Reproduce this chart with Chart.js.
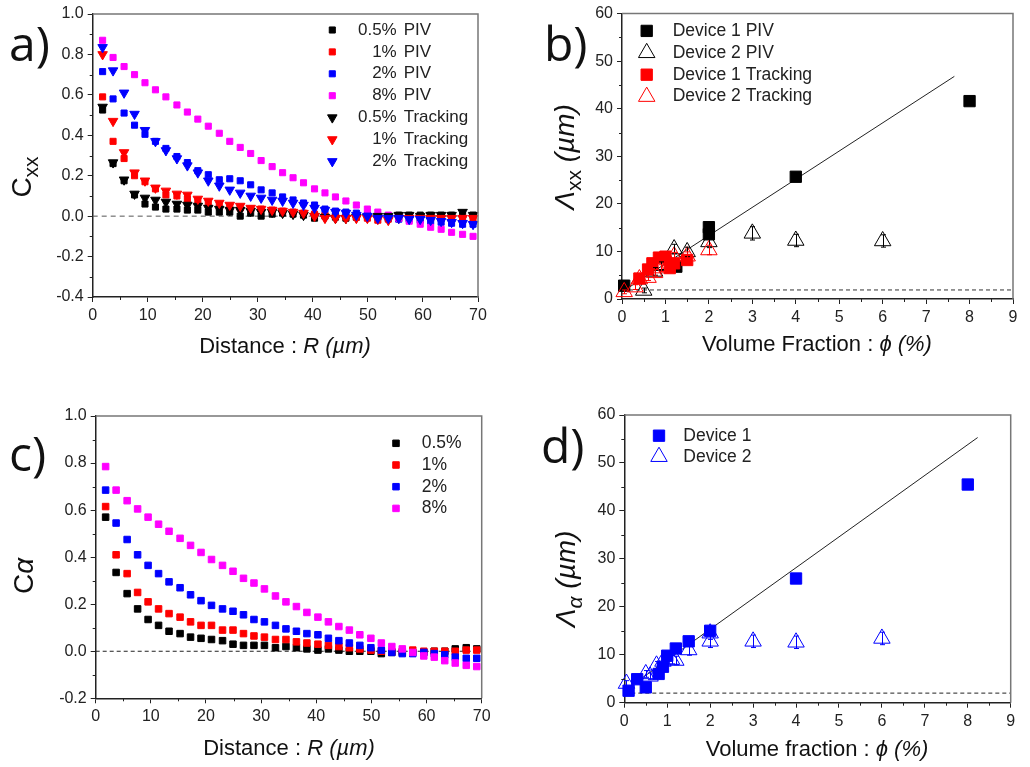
<!DOCTYPE html>
<html>
<head>
<meta charset="utf-8">
<script src="https://cdn.jsdelivr.net/npm/chart.js@4.4.0/dist/chart.umd.min.js"></script>
<style>
  body { margin: 0; background: #fff; width: 1030px; height: 767px; position: relative; overflow: hidden;
         font-family: "Liberation Sans", Arial, sans-serif; color: #111; }
  canvas { position: absolute; }
  .lbl { position: absolute; font-family: "Open Sans", sans-serif; font-size: 48px; line-height: 48px; color: #111; }
  .xt { position: absolute; font-size: 22px; line-height: 22px; transform: translateX(-50%); white-space: nowrap; }
  .yt { position: absolute; font-size: 28px; line-height: 28px; transform: translate(-50%, -50%) rotate(-90deg); white-space: nowrap; }
  .sub { font-size: 21px; position: relative; top: 7px; }
</style>
</head>
<body>
<canvas id="chartA" width="510" height="385" style="left:0;top:0"></canvas>
<canvas id="chartB" width="515" height="385" style="left:515px;top:0"></canvas>
<canvas id="chartC" width="510" height="382" style="left:0;top:385px"></canvas>
<canvas id="chartD" width="515" height="382" style="left:515px;top:385px"></canvas>

<div class="lbl" style="left:9px;top:19px">a)</div>
<div class="lbl" style="left:544px;top:19px">b)</div>
<div class="lbl" style="left:9px;top:429px">c)</div>
<div class="lbl" style="left:541px;top:421px">d)</div>

<div class="xt" style="left:285px;top:335px">Distance : <i>R (µm)</i></div>
<div class="xt" style="left:817px;top:333px">Volume Fraction : <i>ϕ (%)</i></div>
<div class="xt" style="left:289px;top:737px">Distance : <i>R (µm)</i></div>
<div class="xt" style="left:817px;top:738px">Volume fraction : <i>ϕ (%)</i></div>

<div class="yt" style="left:23px;top:177px">C<span class="sub">xx</span></div>
<div class="yt" style="left:566px;top:157px"><i>Λ</i><span class="sub">xx</span> <i>(µm)</i></div>
<div class="yt" style="left:24px;top:576px">C<i>α</i></div>
<div class="yt" style="left:567px;top:579px"><i>Λ</i><span class="sub"><i>α</i></span> <i>(µm)</i></div>

<script>
// distance R (µm) for panels a and c
const distance = [1.8, 3.7, 5.7, 7.6, 9.5, 11.4, 13.3, 15.3, 17.2, 19.1, 21.0, 23.0, 24.9, 26.8, 28.7, 30.6, 32.6, 34.5,
  36.4, 38.3, 40.3, 42.2, 44.1, 46.0, 47.9, 49.9, 51.8, 53.7, 55.6, 57.5, 59.5, 61.4, 63.3, 65.2, 67.2, 69.1];

// panel a : Cxx
const cxxPiv05 = [0.525, 0.26, 0.175, 0.105, 0.06, 0.045, 0.035, 0.035, 0.03, 0.03, 0.02, 0.02, 0.02, 0.0, 0.015, 0.0, 0.01, 0.015,
  0.01, 0.005, -0.01, 0.0, -0.005, -0.01, -0.005, 0.0, 0.0, 0.0, 0.005, 0.005, 0.005, 0.005, 0.005, 0.005, 0.005, 0.005];
const cxxPiv1 = [0.59, 0.37, 0.285, 0.2, 0.17, 0.135, 0.105, 0.1, 0.085, 0.075, 0.065, 0.055, 0.045, 0.04, 0.035, 0.035, 0.03, 0.025,
  0.02, 0.015, 0.01, 0.005, 0.0, -0.005, -0.005, -0.01, -0.02, -0.015, -0.01, -0.01, -0.01, -0.01, -0.01, -0.01, -0.01, -0.01];
const cxxPiv2 = [0.715, 0.58, 0.51, 0.45, 0.405, 0.37, 0.335, 0.295, 0.265, 0.225, 0.205, 0.18, 0.185, 0.175, 0.155, 0.13, 0.115, 0.095,
  0.08, 0.065, 0.055, 0.035, 0.025, 0.02, 0.015, 0.005, -0.005, -0.01, -0.015, -0.015, -0.02, -0.025, -0.03, -0.035, -0.04, -0.04];
const cxxPiv8 = [0.87, 0.785, 0.74, 0.7, 0.66, 0.625, 0.59, 0.55, 0.515, 0.48, 0.445, 0.41, 0.37, 0.34, 0.31, 0.275, 0.245, 0.215,
  0.19, 0.165, 0.135, 0.115, 0.095, 0.075, 0.055, 0.035, 0.02, 0.005, -0.01, -0.025, -0.04, -0.055, -0.065, -0.08, -0.09, -0.1];
const cxxTrk05 = [0.54, 0.265, 0.18, 0.11, 0.09, 0.08, 0.07, 0.06, 0.055, 0.05, 0.04, 0.035, 0.03, 0.03, 0.025, 0.02, 0.02, 0.015,
  0.01, 0.005, 0.0, -0.005, -0.01, -0.01, -0.005, -0.005, 0.0, 0.0, 0.005, 0.005, 0.0, 0.005, 0.005, 0.005, 0.02, 0.005];
const cxxTrk1 = [0.8, 0.47, 0.315, 0.215, 0.175, 0.14, 0.125, 0.11, 0.105, 0.085, 0.075, 0.065, 0.055, 0.05, 0.04, 0.035, 0.03, 0.025,
  0.02, 0.015, 0.0, -0.01, -0.01, -0.01, -0.01, -0.01, -0.015, -0.02, -0.01, -0.01, -0.01, -0.01, -0.01, -0.01, -0.01, -0.01];
const cxxTrk2 = [0.835, 0.72, 0.61, 0.505, 0.425, 0.37, 0.325, 0.285, 0.25, 0.215, 0.175, 0.15, 0.13, 0.115, 0.1, 0.09, 0.08, 0.075,
  0.065, 0.055, 0.04, 0.03, 0.02, 0.015, 0.005, 0.0, -0.01, -0.01, -0.01, -0.015, -0.015, -0.02, -0.025, -0.03, -0.035, -0.04];

// panel c : C alpha
const ca05 = [0.57, 0.335, 0.245, 0.18, 0.135, 0.11, 0.085, 0.075, 0.06, 0.055, 0.05, 0.045, 0.03, 0.025, 0.025, 0.025, 0.015, 0.02,
  0.015, 0.01, 0.005, 0.01, 0.005, 0.0, 0.0, 0.0, -0.01, -0.005, -0.005, -0.005, -0.005, 0.0, 0.0, 0.01, 0.015, 0.01];
const ca1 = [0.615, 0.41, 0.33, 0.25, 0.21, 0.18, 0.16, 0.145, 0.125, 0.11, 0.11, 0.09, 0.09, 0.075, 0.065, 0.06, 0.05, 0.05,
  0.04, 0.035, 0.03, 0.025, 0.02, 0.015, 0.01, 0.005, 0.0, 0.0, 0.0, 0.005, 0.0, 0.0, 0.0, 0.0, 0.005, 0.005];
const ca2 = [0.685, 0.545, 0.475, 0.41, 0.365, 0.33, 0.295, 0.27, 0.24, 0.215, 0.195, 0.18, 0.17, 0.155, 0.135, 0.125, 0.11, 0.095,
  0.085, 0.075, 0.07, 0.055, 0.045, 0.035, 0.025, 0.015, 0.005, -0.005, -0.01, -0.01, -0.005, -0.01, -0.015, -0.025, -0.03, -0.03];
const ca8 = [0.785, 0.685, 0.64, 0.605, 0.57, 0.54, 0.51, 0.48, 0.45, 0.42, 0.39, 0.365, 0.34, 0.31, 0.29, 0.265, 0.235, 0.21,
  0.19, 0.165, 0.145, 0.125, 0.105, 0.09, 0.07, 0.055, 0.035, 0.02, 0.01, -0.005, -0.02, -0.025, -0.04, -0.05, -0.06, -0.065];

// panel b : Lambda xx vs volume fraction
const phiB1 = [0.05, 1.25, 2, 2, 4, 8];
const lamB1 = [2.8, 6.8, 15.1, 13.6, 25.7, 41.6];
const phiB2 = [0.5, 0.75, 0.9, 1.2, 1.5, 2, 3, 4, 6];
const lamB2 = [1.8, 5.8, 7.0, 10.5, 9.9, 12.0, 13.8, 12.3, 12.2];
const errB2 = [0.5, 0.8, 0.8, 1.0, 1.0, 1.2, 1.4, 1.3, 1.3];
const phiB1t = [0.4, 0.6, 0.7, 0.85, 1.0, 1.1, 1.2, 1.5];
const lamB1t = [4.3, 6.2, 7.5, 8.7, 8.9, 6.5, 7.5, 8.2];
const phiB2t = [0.05, 0.3, 0.4, 0.6, 0.75, 0.9, 1.1, 1.2, 1.5, 2];
const lamB2t = [1.5, 2.5, 4.2, 4.5, 5.5, 6.5, 7.5, 9.0, 9.0, 10.3];
const errB2t = [0.4, 0.5, 0.6, 0.6, 0.7, 0.7, 0.8, 0.8, 0.9, 1.0];
const fitBx = [0, 7.65];
const fitBy = [1.5, 46.8];

// panel d : Lambda alpha vs volume fraction
const phiD1 = [0.1, 0.3, 0.5, 0.8, 0.9, 1.0, 1.2, 1.5, 2, 4, 8];
const lamD1 = [2.5, 4.9, 3.2, 6.0, 7.5, 9.8, 11.3, 12.8, 15.0, 25.9, 45.5];
const phiD2 = [0.05, 0.5, 0.6, 0.75, 0.9, 1.1, 1.2, 1.5, 2, 2, 3, 4, 6];
const lamD2 = [4.0, 6.0, 5.5, 7.8, 8.6, 9.0, 8.8, 11.0, 14.5, 12.8, 12.8, 12.6, 13.4];
const errD2 = [0.6, 0.7, 0.7, 0.8, 0.8, 0.9, 0.9, 1.1, 1.3, 1.3, 1.3, 1.3, 1.3];
const fitDx = [0, 8.23];
const fitDy = [2.5, 55.3];

// horizontal reference lines
const zeroX = [0, 70];
const zeroY = [0, 0];
const floorX = [0, 9];
const floorBy = [1.9, 1.9];
const floorDy = [2, 2];

Chart.defaults.font.family = "'Liberation Sans', Arial, sans-serif";

const pts = (xs, ys) => xs.map((x, i) => ({x: x, y: ys[i]}));

function marks(label, xs, ys, color, style, r, open, err) {
    return {
        label: label,
        data: pts(xs, ys),
        pointStyle: style === 'down' ? 'triangle' : style,
        pointRotation: style === 'down' ? 180 : 0,
        pointRadius: r,
        pointHoverRadius: r,
        pointBackgroundColor: open ? 'rgba(255,255,255,0)' : color,
        pointBorderColor: color,
        pointBorderWidth: 1,
        showLine: false,
        clip: false,
        errorBars: err
    };
}

function refLine(xs, ys, color, dash) {
    return {
        label: '',
        data: pts(xs, ys),
        showLine: true,
        borderColor: color,
        borderWidth: 1,
        borderDash: dash || [],
        pointRadius: 0,
        order: 99
    };
}

function axis(min, max, step, dec) {
    return {
        type: 'linear', min: min, max: max,
        afterFit: s => { if (s.isHorizontal()) s.height = 30; else s.width = 40; },
        ticks: {
            stepSize: step, color: '#222', padding: 4, maxRotation: 0, autoSkip: false,
            font: {size: 16},
            callback: v => (Math.abs(v) < 1e-9 ? 0 : v).toFixed(dec)
        },
        grid: {drawOnChartArea: false, color: '#222', tickLength: 5, lineWidth: 1},
        border: {color: '#222', width: 1.5}
    };
}

// minor ticks + grey top/right frame
const frame = {
    id: 'frame',
    afterDraw(chart) {
        const ctx = chart.ctx, a = chart.chartArea;
        ctx.save();
        ctx.strokeStyle = '#222';
        ctx.lineWidth = 1;
        ['x', 'y'].forEach(id => {
            const s = chart.scales[id], t = s.ticks;
            for (let i = 0; i < t.length - 1; i++) {
                const p = Math.round(s.getPixelForValue((t[i].value + t[i + 1].value) / 2)) + 0.5;
                ctx.beginPath();
                if (id === 'x') { ctx.moveTo(p, a.bottom); ctx.lineTo(p, a.bottom + 3); }
                else { ctx.moveTo(a.left, p); ctx.lineTo(a.left - 3, p); }
                ctx.stroke();
            }
        });
        ctx.strokeStyle = '#777';
        ctx.lineWidth = 1.5;
        ctx.beginPath();
        ctx.moveTo(a.left, a.top);
        ctx.lineTo(a.right, a.top);
        ctx.lineTo(a.right, a.bottom);
        ctx.stroke();
        ctx.restore();
    }
};

// vertical error bars on datasets having errorBars
const errorBars = {
    id: 'errorBars',
    afterDatasetsDraw(chart) {
        const ctx = chart.ctx, ys = chart.scales.y;
        chart.data.datasets.forEach((ds, di) => {
            if (!ds.errorBars) return;
            const meta = chart.getDatasetMeta(di);
            ctx.save();
            ctx.strokeStyle = ds.pointBorderColor;
            ctx.lineWidth = 1;
            meta.data.forEach((el, i) => {
                const v = ds.data[i].y, e = ds.errorBars[i];
                const top = ys.getPixelForValue(v + e), bot = ys.getPixelForValue(v - e);
                const x = Math.round(el.x) + 0.5;
                ctx.beginPath();
                ctx.moveTo(x, top); ctx.lineTo(x, bot);
                ctx.moveTo(x - 2.5, top); ctx.lineTo(x + 2.5, top);
                ctx.moveTo(x - 2.5, bot); ctx.lineTo(x + 2.5, bot);
                ctx.stroke();
            });
            ctx.restore();
        });
    }
};

// legend drawn inside the plot area
const insideLegend = {
    id: 'insideLegend',
    afterDraw(chart, args, o) {
        const ctx = chart.ctx, a = chart.chartArea;
        ctx.save();
        ctx.font = o.font;
        ctx.textBaseline = 'middle';
        let row = 0;
        chart.data.datasets.forEach(ds => {
            if (!ds.label) return;
            const y = a.top + o.y + row * o.rowH;
            ctx.fillStyle = ds.pointBackgroundColor;
            ctx.strokeStyle = ds.pointBorderColor;
            ctx.lineWidth = 1;
            Chart.helpers.drawPoint(ctx, {pointStyle: ds.pointStyle, rotation: ds.pointRotation,
                radius: ds.pointRadius, borderWidth: 1}, a.left + o.markerX, y);
            ctx.fillStyle = '#222';
            if (o.splitX) {
                const k = ds.label.indexOf(' ');
                ctx.textAlign = 'right';
                ctx.fillText(ds.label.slice(0, k), a.left + o.splitX, y);
                ctx.textAlign = 'left';
                ctx.fillText(ds.label.slice(k + 1), a.left + o.splitX + 7, y);
            } else {
                ctx.textAlign = 'left';
                ctx.fillText(ds.label, a.left + o.textX, y);
            }
            row++;
        });
        ctx.restore();
    }
};

function makeChart(id, datasets, scales, padding, legend) {
    // later series drawn on top, reference lines at the bottom
    datasets.forEach((ds, i) => { if (ds.order === undefined) ds.order = -i; });
    new Chart(document.getElementById(id), {
        type: 'scatter',
        data: {datasets: datasets},
        options: {
            responsive: false,
            animation: false,
            events: [],
            layout: {padding: padding},
            scales: scales,
            plugins: {legend: {display: false}, tooltip: {enabled: false}, insideLegend: legend}
        },
        plugins: [frame, errorBars, insideLegend]
    });
}

const BLACK = '#000000', RED = '#ff0000', BLUE = '#0000ff', PINK = '#ff00ff';

// a)
makeChart('chartA', [
    refLine(zeroX, zeroY, '#555', [5, 4]),
    marks('0.5% PIV', distance, cxxPiv05, BLACK, 'rect', 4.3),
    marks('1% PIV', distance, cxxPiv1, RED, 'rect', 4.3),
    marks('2% PIV', distance, cxxPiv2, BLUE, 'rect', 4.3),
    marks('8% PIV', distance, cxxPiv8, PINK, 'rect', 4.3),
    marks('0.5% Tracking', distance, cxxTrk05, BLACK, 'down', 5.5),
    marks('1% Tracking', distance, cxxTrk1, RED, 'down', 5.5),
    marks('2% Tracking', distance, cxxTrk2, BLUE, 'down', 5.5)
], {x: axis(0, 70, 10, 0), y: axis(-0.4, 1.0, 0.2, 1)},
   {left: 52.7, top: 14, right: 32, bottom: 58},
   {font: "17px 'Liberation Sans', Arial", markerX: 239.6, y: 16, rowH: 21.9, splitX: 304});

// b)
makeChart('chartB', [
    refLine(floorX, floorBy, '#333', [4, 3]),
    refLine(fitBx, fitBy, '#222'),
    marks('Device 1 PIV', phiB1, lamB1, BLACK, 'rect', 8),
    marks('Device 2 PIV', phiB2, lamB2, BLACK, 'triangle', 9.5, true, errB2),
    marks('Device 1 Tracking', phiB1t, lamB1t, RED, 'rect', 8),
    marks('Device 2 Tracking', phiB2t, lamB2t, RED, 'triangle', 9.5, true, errB2t)
], {x: axis(0, 9, 1, 0), y: axis(0, 60, 10, 0)},
   {left: 67, top: 12, right: 17, bottom: 56},
   {font: "17.5px 'Liberation Sans', Arial", markerX: 24.7, y: 17.3, rowH: 21.9, textX: 50.7});

// c)
makeChart('chartC', [
    refLine(zeroX, zeroY, '#222', [4, 3]),
    marks('0.5%', distance, ca05, BLACK, 'rect', 4.6),
    marks('1%', distance, ca1, RED, 'rect', 4.6),
    marks('2%', distance, ca2, BLUE, 'rect', 4.6),
    marks('8%', distance, ca8, PINK, 'rect', 4.6)
], {x: axis(0, 70, 10, 0), y: axis(-0.2, 1.0, 0.2, 1)},
   {left: 55.7, top: 31, right: 28.3, bottom: 38.7},
   {font: "17.5px 'Liberation Sans', Arial", markerX: 300.3, y: 27.3, rowH: 21.7, textX: 326});

// d)
makeChart('chartD', [
    refLine(floorX, floorDy, '#222', [4, 3]),
    refLine(fitDx, fitDy, '#222'),
    marks('Device 1', phiD1, lamD1, BLUE, 'rect', 8),
    marks('Device 2', phiD2, lamD2, BLUE, 'triangle', 9.5, true, errD2)
], {x: axis(0, 9, 1, 0), y: axis(0, 60, 10, 0)},
   {left: 69.3, top: 30, right: 19.3, bottom: 34.3},
   {font: "17.5px 'Liberation Sans', Arial", markerX: 34.7, y: 20.7, rowH: 21, textX: 59});
</script>
</body>
</html>
